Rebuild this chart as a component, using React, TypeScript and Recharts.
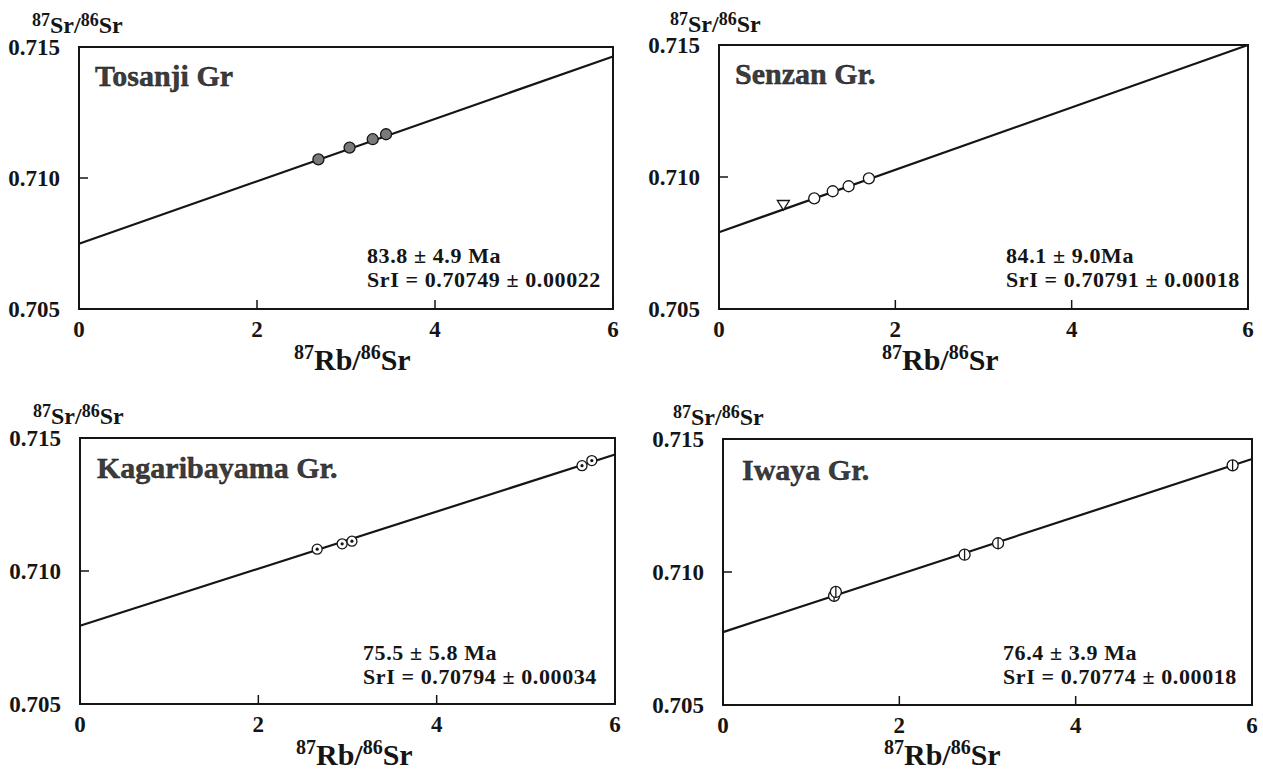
import React from 'react'
import {
  ScatterChart,
  Scatter,
  XAxis,
  YAxis,
  ReferenceArea,
  ReferenceLine,
} from 'recharts'

// 87Rb/86Sr (x) and 87Sr/86Sr (y) for each group
const tosanjiX = [2.69, 3.04, 3.3, 3.45]
const tosanjiY = [0.71071, 0.71116, 0.71148, 0.71167]

const senzanX = [1.08, 1.29, 1.47, 1.7]
const senzanY = [0.70919, 0.70946, 0.70965, 0.70995]
const senzanTriX = [0.73]
const senzanTriY = [0.70895]

const kagariX = [2.66, 2.94, 3.05, 5.63, 5.74]
const kagariY = [0.71082, 0.71102, 0.71112, 0.71396, 0.71415]

const iwayaX = [1.26, 1.28, 2.74, 3.12, 5.78]
const iwayaY = [0.7091, 0.70925, 0.71065, 0.71108, 0.71401]

// isochron line ends at x = 0 and x = 6
const lineStart = [0.70749, 0.70791, 0.70794, 0.70774]
const lineEnd = [0.71464, 0.715, 0.71438, 0.71425]

const groupNames = ['Tosanji Gr', 'Senzan Gr.', 'Kagaribayama Gr.', 'Iwaya Gr.']
const ageLabels = ['83.8 ± 4.9 Ma', '84.1 ± 9.0Ma', '75.5 ± 5.8 Ma', '76.4 ± 3.9 Ma']
const srILabels = [
  'SrI = 0.70749 ± 0.00022',
  'SrI = 0.70791 ± 0.00018',
  'SrI = 0.70794 ± 0.00034',
  'SrI = 0.70774 ± 0.00018',
]

const xTicks = [0, 2, 4, 6]
const yTicks = [0.705, 0.71, 0.715]

const FONT = '"Liberation Serif", "Times New Roman", serif'
const INK = '#151515'

const toPoints = (xs: number[], ys: number[]) => xs.map((x, i) => ({ x, y: ys[i] }))

type MarkerKind = 'filled' | 'open' | 'triangle' | 'dotted' | 'barred'

function Marker({ cx, cy, kind }: { cx: number; cy: number; kind: MarkerKind }) {
  if (cx == null || cy == null) return null
  if (kind === 'triangle') {
    const s = 6
    return (
      <polygon
        points={`${cx - s},${cy - s * 0.7} ${cx + s},${cy - s * 0.7} ${cx},${cy + s * 0.9}`}
        fill="#fff"
        stroke={INK}
        strokeWidth={1.3}
      />
    )
  }
  const r = kind === 'dotted' ? 5 : 5.5
  return (
    <g>
      <circle
        cx={cx}
        cy={cy}
        r={r}
        fill={kind === 'filled' ? '#7a7a7a' : '#fff'}
        stroke={INK}
        strokeWidth={1.3}
      />
      {kind === 'dotted' && <circle cx={cx} cy={cy} r={1.6} fill={INK} />}
      {kind === 'barred' && (
        <line x1={cx} y1={cy - r} x2={cx} y2={cy + r} stroke={INK} strokeWidth={1.3} />
      )}
    </g>
  )
}

interface Series {
  points: { x: number; y: number }[]
  kind: MarkerKind
}

interface PanelProps {
  idx: number
  left: number
  top: number
  w: number
  h: number
  series: Series[]
}

const Y_AXIS_W = 75
const M_TOP = 20
const M_RIGHT = 20
const X_AXIS_H = 40

function Panel({ idx, left, top, w, h, series }: PanelProps) {
  const tickStyle = { fill: INK, fontSize: 23, fontWeight: 'bold', fontFamily: FONT }
  return (
    <div style={{ position: 'absolute', left: left - Y_AXIS_W, top: top - M_TOP }}>
      <ScatterChart
        width={w + Y_AXIS_W + M_RIGHT}
        height={h + M_TOP + X_AXIS_H}
        margin={{ top: M_TOP, right: M_RIGHT, bottom: 0, left: 0 }}
      >
        <XAxis
          type="number"
          dataKey="x"
          domain={[0, 6]}
          ticks={xTicks}
          interval={0}
          height={X_AXIS_H}
          axisLine={false}
          tickSize={-9}
          tickMargin={21}
          tickLine={{ stroke: INK, strokeWidth: 1.5 }}
          tick={tickStyle}
        />
        <YAxis
          type="number"
          dataKey="y"
          domain={[0.705, 0.715]}
          ticks={yTicks}
          interval={0}
          width={Y_AXIS_W}
          axisLine={false}
          tickSize={-9}
          tickMargin={28}
          tickLine={{ stroke: INK, strokeWidth: 1.5 }}
          tick={tickStyle}
          tickFormatter={(v: number) => v.toFixed(3)}
        />
        <ReferenceArea
          x1={0}
          x2={6}
          y1={0.705}
          y2={0.715}
          fill="none"
          fillOpacity={0}
          stroke={INK}
          strokeWidth={2}
        />
        <ReferenceLine
          segment={[
            { x: 0, y: lineStart[idx] },
            { x: 6, y: lineEnd[idx] },
          ]}
          stroke={INK}
          strokeWidth={2.2}
        />
        {series.map((s, i) => (
          <Scatter
            key={i}
            data={s.points}
            isAnimationActive={false}
            shape={(p: any) => <Marker cx={p.cx} cy={p.cy} kind={s.kind} />}
          />
        ))}
      </ScatterChart>
    </div>
  )
}

// plot-area boxes in page pixels
const layout = [
  { left: 79, top: 47, w: 534, h: 262 },
  { left: 719, top: 45, w: 529, h: 264 },
  { left: 80, top: 438, w: 535, h: 266 },
  { left: 723, top: 439, w: 529, h: 266 },
]

const panelSeries: Series[][] = [
  [{ points: toPoints(tosanjiX, tosanjiY), kind: 'filled' }],
  [
    { points: toPoints(senzanX, senzanY), kind: 'open' },
    { points: toPoints(senzanTriX, senzanTriY), kind: 'triangle' },
  ],
  [{ points: toPoints(kagariX, kagariY), kind: 'dotted' }],
  [{ points: toPoints(iwayaX, iwayaY), kind: 'barred' }],
]

// text placement: group title, annotation start, axis titles
const textPos = [
  { tx: 95, ty: 86, ax: 367, ay: 263, yx: 32, yy: 33, xx: 294, xy: 370 },
  { tx: 735, ty: 84, ax: 1006, ay: 263, yx: 670, yy: 32, xx: 882, xy: 370 },
  { tx: 97, ty: 478, ax: 363, ay: 660, yx: 33, yy: 424, xx: 296, xy: 765 },
  { tx: 742, ty: 480, ax: 1003, ay: 660, yx: 673, yy: 425, xx: 884, xy: 765 },
]

function Overlay() {
  return (
    <svg
      width={1263}
      height={776}
      style={{ position: 'absolute', left: 0, top: 0, pointerEvents: 'none' }}
      fontFamily={FONT}
      fontWeight="bold"
      fill={INK}
    >
      {textPos.map((t, i) => (
        <g key={i}>
          <text x={t.tx} y={t.ty} fontSize={30} fill="#3c3c3c" stroke="#111" strokeWidth={0.4}>
            {groupNames[i]}
          </text>
          <text x={t.ax} y={t.ay} fontSize={22} letterSpacing={0.6}>
            {ageLabels[i]}
          </text>
          <text x={t.ax} y={t.ay + 24} fontSize={22} letterSpacing={0.6}>
            {srILabels[i]}
          </text>
          <text x={t.yx} y={t.yy}>
            <tspan fontSize={18} dy={-7}>87</tspan>
            <tspan fontSize={24} dy={7}>Sr/</tspan>
            <tspan fontSize={18} dy={-7}>86</tspan>
            <tspan fontSize={24} dy={7}>Sr</tspan>
          </text>
          <text x={t.xx} y={t.xy}>
            <tspan fontSize={20} dy={-11}>87</tspan>
            <tspan fontSize={30} dy={11}>Rb/</tspan>
            <tspan fontSize={20} dy={-11}>86</tspan>
            <tspan fontSize={30} dy={11}>Sr</tspan>
          </text>
        </g>
      ))}
    </svg>
  )
}

export default function App() {
  return (
    <div
      style={{
        position: 'absolute',
        left: 0,
        top: 0,
        width: 1263,
        height: 776,
        background: '#fff',
        fontFamily: FONT,
      }}
    >
      {layout.map((b, i) => (
        <Panel key={i} idx={i} {...b} series={panelSeries[i]} />
      ))}
      <Overlay />
    </div>
  )
}
